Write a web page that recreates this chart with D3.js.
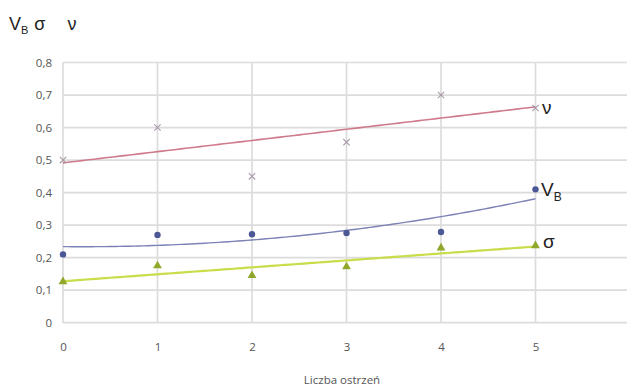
<!DOCTYPE html>
<html><head><meta charset="utf-8">
<script src="https://cdn.jsdelivr.net/npm/d3@7"></script>
<style>body{margin:0;background:#fff;}svg{display:block;font-family:"Open Sans","Liberation Sans",sans-serif;}</style>
</head><body><svg id="c" width="627" height="387"></svg>
<script>
const xValues = [0, 1, 2, 3, 4, 5];
const nuValues = [0.50, 0.60, 0.45, 0.555, 0.70, 0.66];
const vbValues = [0.21, 0.27, 0.272, 0.276, 0.279, 0.41];
const sigmaValues = [0.126, 0.175, 0.145, 0.172, 0.23, 0.237];
const xTicks = [0, 1, 2, 3, 4, 5, 6];
const yTicks = [0, 0.1, 0.2, 0.3, 0.4, 0.5, 0.6, 0.7, 0.8];

// least-squares polynomial trend (Excel-style trendline)
function polyFit(xs, ys, order) {
  const n = order + 1;
  const A = Array.from({length: n}, () => new Array(n + 1).fill(0));
  for (let r = 0; r < n; r++) {
    for (let c = 0; c < n; c++) A[r][c] = d3.sum(xs, x => Math.pow(x, r + c));
    A[r][n] = d3.sum(xs, (x, i) => Math.pow(x, r) * ys[i]);
  }
  for (let i = 0; i < n; i++) {
    let p = i; for (let k = i + 1; k < n; k++) if (Math.abs(A[k][i]) > Math.abs(A[p][i])) p = k;
    [A[i], A[p]] = [A[p], A[i]];
    for (let k = 0; k < n; k++) if (k !== i) {
      const f = A[k][i] / A[i][i];
      for (let j = i; j <= n; j++) A[k][j] -= f * A[i][j];
    }
  }
  const coef = A.map((row, i) => row[n] / row[i]);
  return x => coef.reduce((s, c, i) => s + c * Math.pow(x, i), 0);
}

const svg = d3.select("#c");
const x = d3.scaleLinear().domain([0, 6]).range([63, 630]);
const y = d3.scaleLinear().domain([0, 0.8]).range([322.7, 62.5]);
const fmt = v => d3.format(".1f")(v).replace(".", ",");

// grid
svg.append("g").selectAll("line").data(yTicks).join("line")
  .attr("x1", x(0)).attr("x2", 627).attr("y1", d => y(d)).attr("y2", d => y(d))
  .attr("stroke", "#dcdcdc").attr("stroke-width", 1.7);
svg.append("g").selectAll("line").data(xTicks).join("line")
  .attr("y1", y(0.8)).attr("y2", y(0)).attr("x1", d => x(d)).attr("x2", d => x(d))
  .attr("stroke", "#dcdcdc").attr("stroke-width", 1.7);

// axes labels
const yAxis = svg.append("g").attr("transform", `translate(${x(0)},0)`)
  .call(d3.axisLeft(y).tickValues(yTicks).tickSize(0).tickPadding(11).tickFormat(d => d === 0 ? "0" : fmt(d)));
yAxis.select(".domain").remove();
yAxis.selectAll("text").attr("fill", "#555").style("font-size", "11.5px").style("font-family", "'Open Sans',sans-serif");

const xAxis = svg.append("g").attr("transform", `translate(0,${y(0)})`)
  .call(d3.axisBottom(x).tickValues(xTicks).tickSize(0).tickPadding(20).tickFormat(d3.format("d")));
xAxis.select(".domain").remove();
xAxis.selectAll("text").attr("fill", "#555").style("font-size", "11.5px").style("font-family", "'Open Sans',sans-serif");

svg.append("text").attr("x", 342).attr("y", 384).attr("text-anchor", "middle")
  .attr("fill", "#555").style("font-size", "11.5px").text("Liczba ostrzeń");

// trendlines
const dense = d3.range(0, 5.001, 0.05);
const line = d3.line().x(d => x(d[0])).y(d => y(d[1]));
function trend(vals, order, color, w) {
  const f = polyFit(xValues, vals, order);
  svg.append("path").datum(dense.map(t => [t, f(t)])).attr("d", line)
    .attr("fill", "none").attr("stroke", color).attr("stroke-width", w);
}
trend(nuValues, 1, "#cf7a8c", 1.6);
trend(vbValues, 2, "#7c82b6", 1.4);
trend(sigmaValues, 1, "#c9dc4a", 2.2);

// markers
svg.append("g").selectAll("path").data(xValues).join("path")
  .attr("d", d3.symbol(d3.symbolX, 28)())
  .attr("transform", (d, i) => `translate(${x(d)},${y(nuValues[i])})`)
  .attr("stroke", "#a89aa8").attr("stroke-width", 1.1).attr("fill", "none");
svg.append("g").selectAll("circle").data(xValues).join("circle")
  .attr("cx", d => x(d)).attr("cy", (d, i) => y(vbValues[i])).attr("r", 3.2)
  .attr("fill", "#4c5896");
svg.append("g").selectAll("path").data(xValues).join("path")
  .attr("d", d3.symbol(d3.symbolTriangle, 34)())
  .attr("transform", (d, i) => `translate(${x(d)},${y(sigmaValues[i])})`)
  .attr("fill", "#8fa72a");

// series labels
const lab = svg.append("g").attr("fill", "#222").style("font-family", "'Liberation Sans',Arial,sans-serif");
lab.append("text").attr("x", 542).attr("y", y(0.66) + 6).style("font-size", "19px").text("ν");
const vb = lab.append("text").attr("x", 541).attr("y", y(0.41) + 7).style("font-size", "19px");
vb.append("tspan").text("V");
vb.append("tspan").attr("dy", 5).style("font-size", "12px").text("B");
lab.append("text").attr("x", 543).attr("y", y(0.237) + 2).style("font-size", "19px").text("σ");

// top title
const tt = svg.append("text").attr("x", 9).attr("y", 30).attr("fill", "#222")
  .style("font-family", "'Liberation Sans',Arial,sans-serif").style("font-size", "18px");
tt.append("tspan").text("V");
tt.append("tspan").attr("dy", 4).style("font-size", "11px").text("B");
tt.append("tspan").attr("dy", -4).attr("dx", 6).text("σ");
tt.append("tspan").attr("dx", 22).text("ν");
</script></body></html>
